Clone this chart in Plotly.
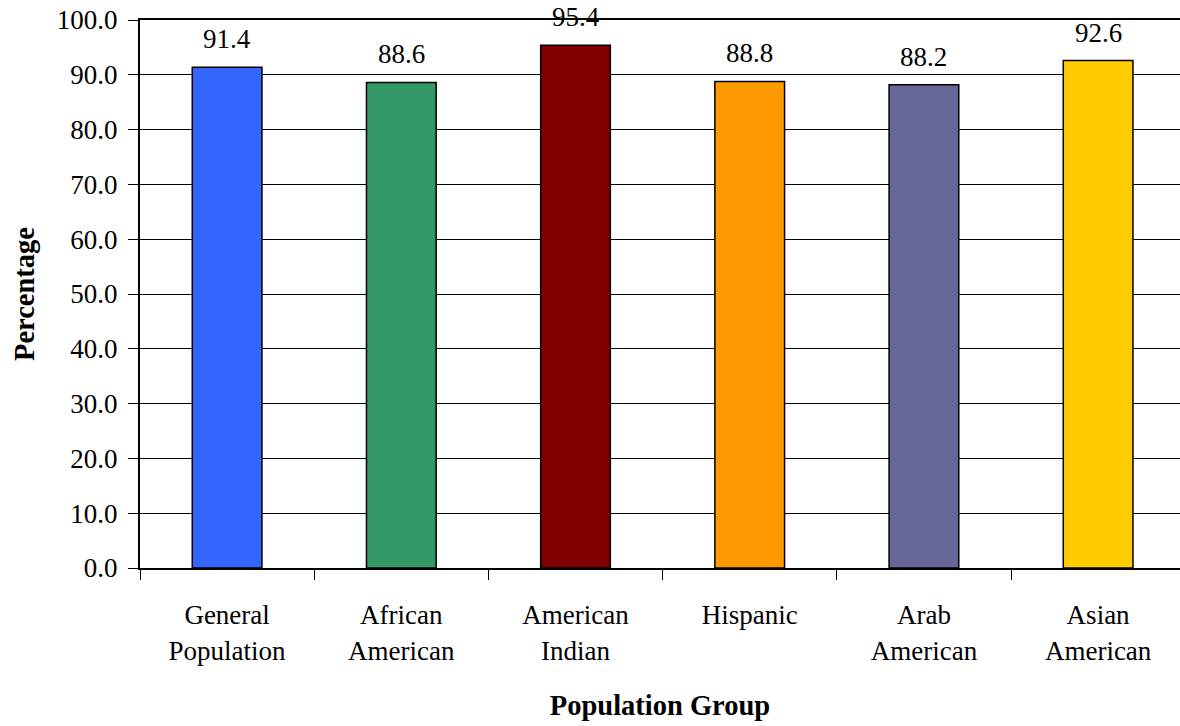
import plotly.graph_objects as go

# Share of each population group (percent)
groups = ["General<br>Population", "African<br>American", "American<br>Indian",
          "Hispanic", "Arab<br>American", "Asian<br>American"]
percentages = [91.4, 88.6, 95.4, 88.8, 88.2, 92.6]
bar_colors = ["#3366FF", "#339966", "#800000", "#FF9900", "#666699", "#FFCC00"]
y_ticks = [0, 10, 20, 30, 40, 50, 60, 70, 80, 90, 100]

FONT = "Liberation Serif"

fig = go.Figure()
fig.add_trace(go.Bar(
    x=groups,
    y=percentages,
    marker=dict(color=bar_colors, line=dict(color="black", width=1.5)),
    width=0.4,
    cliponaxis=False,
    hoverinfo="x+y",
))

# Value labels above each bar
for g, v in zip(groups, percentages):
    fig.add_annotation(
        x=g, y=v, text=f"{v:.1f}", showarrow=False,
        yanchor="bottom", yshift=11,
        font=dict(family=FONT, size=27, color="black"),
    )

fig.update_layout(
    width=1180, height=726,
    margin=dict(l=140, r=0, t=20, b=158),
    plot_bgcolor="white", paper_bgcolor="white",
    showlegend=False,
    font=dict(family=FONT, size=27, color="black"),
    bargap=0.6,
)

fig.update_xaxes(
    range=[-0.5, 5.47],
    tickson="boundaries",
    ticks="outside", ticklen=10, tickwidth=1, tickcolor="black",
    showline=True, linecolor="black", linewidth=2, mirror=True,
    showgrid=False,
    tickfont=dict(family=FONT, size=27),
    ticklabelstandoff=22,
    title=dict(text="<b>Population Group</b>", font=dict(family=FONT, size=28.5),
               standoff=31),
)

fig.update_yaxes(
    range=[0, 100],
    tickvals=y_ticks,
    ticktext=[f"{t:.1f}" for t in y_ticks],
    ticks="outside", ticklen=10, tickwidth=1, tickcolor="black",
    showline=True, linecolor="black", linewidth=2,
    showgrid=True, gridcolor="black", gridwidth=1,
    zeroline=False,
    tickfont=dict(family=FONT, size=27),
    ticklabelstandoff=5,
    title=dict(text="<b>Percentage</b>", font=dict(family=FONT, size=28.5),
               standoff=14),
)

fig.write_html("out.html")
